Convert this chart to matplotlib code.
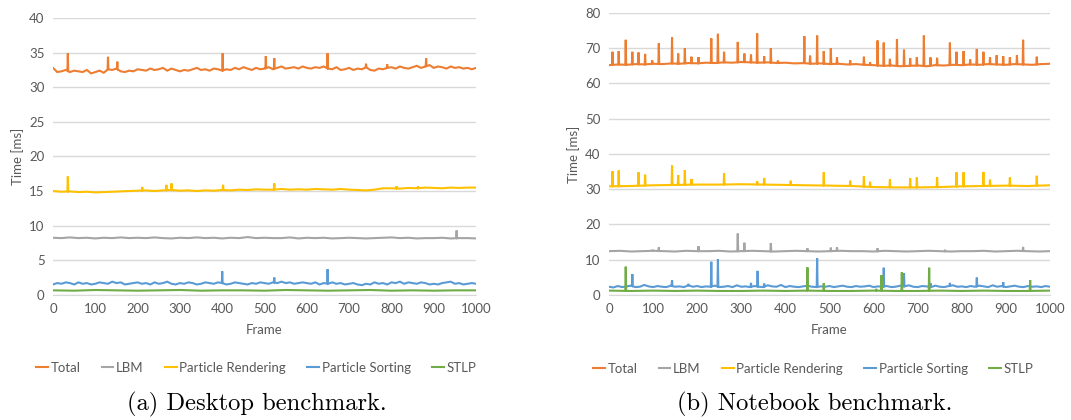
import matplotlib
matplotlib.use("Agg")
import matplotlib.pyplot as plt
import numpy as np

# series names and Excel-style colours
names = ["Total", "LBM", "Particle Rendering", "Particle Sorting", "STLP"]
colors = ["#ED7D31", "#A5A5A5", "#FFC000", "#5B9BD5", "#70AD47"]

# ---- desktop benchmark: baseline samples (evenly spread over frames 0..1000) ----
d_total = [32.8, 32.2, 32.3, 32.5, 32.2, 32.4, 32.3, 32.2, 32.5, 32.0,
           32.2, 32.4, 32.1, 32.6, 32.5, 32.7, 32.3, 32.2, 32.4, 32.3,
           32.6, 32.5, 32.4, 32.7, 32.5, 32.6, 32.8, 32.4, 32.7, 32.5,
           32.3, 32.5, 32.4, 32.6, 32.8, 32.5, 32.6, 32.4, 32.7, 32.6,
           32.4, 32.6, 32.5, 32.8, 32.6, 32.9, 32.7, 32.5, 32.8, 32.6,
           32.7, 32.9, 32.6, 32.8, 33.0, 32.7, 32.8, 32.9, 32.7, 33.0,
           32.8, 32.7, 32.9, 32.8, 33.0, 32.7, 32.6, 32.9, 32.5, 32.6,
           32.8, 32.5, 32.7, 32.6, 32.9, 32.5, 32.4, 32.7, 32.6, 32.8,
           32.9, 32.7, 33.0, 32.8, 32.7, 32.9, 33.1, 32.8, 33.0, 33.2,
           32.8, 33.0, 32.9, 32.7, 33.0, 32.8, 32.9, 32.7, 32.8, 32.6, 32.8]
d_lbm = [8.25, 8.2, 8.3, 8.2, 8.25, 8.15, 8.25, 8.2, 8.3, 8.2,
         8.25, 8.2, 8.3, 8.2, 8.15, 8.25, 8.2, 8.3, 8.2, 8.25,
         8.15, 8.25, 8.2, 8.35, 8.2, 8.25, 8.2, 8.2, 8.3, 8.15,
         8.25, 8.2, 8.25, 8.15, 8.2, 8.25, 8.2, 8.15, 8.2, 8.25,
         8.3, 8.2, 8.25, 8.15, 8.2, 8.2, 8.25, 8.15, 8.2, 8.2, 8.15]
d_render = [15.0, 14.9, 14.95, 14.85, 14.9, 14.8, 14.85, 14.9, 14.95, 15.0,
            15.05, 15.1, 15.0, 15.1, 15.15, 15.05, 15.1, 15.0, 15.1, 15.05,
            15.15, 15.1, 15.2, 15.15, 15.25, 15.2, 15.2, 15.3, 15.2, 15.25,
            15.2, 15.3, 15.25, 15.2, 15.3, 15.2, 15.15, 15.1, 15.2, 15.4,
            15.4, 15.35, 15.45, 15.4, 15.5, 15.45, 15.4, 15.5, 15.45, 15.5, 15.5]
d_sort = [1.5, 1.7, 1.6, 1.8, 1.7, 1.5, 1.8, 1.6, 1.7, 1.5,
          1.6, 1.8, 1.7, 1.6, 1.9, 1.7, 1.8, 1.5, 1.6, 1.7,
          1.8, 1.6, 1.7, 1.5, 1.8, 1.6, 1.7, 1.9, 1.6, 1.5,
          1.7, 1.6, 1.8, 1.7, 1.5, 1.6, 1.8, 1.7, 1.6, 1.8,
          1.7, 1.5, 1.6, 1.8, 1.7, 1.6, 1.5, 1.7, 1.6, 1.8,
          1.7, 1.6, 1.8, 1.7, 1.9, 1.7, 1.8, 1.6, 1.7, 1.8,
          1.7, 1.6, 1.8, 1.5, 1.7, 1.6, 1.8, 1.6, 1.7, 1.5,
          1.6, 1.7, 1.5, 1.4, 1.6, 1.5, 1.8, 1.6, 1.7, 1.5,
          1.8, 1.7, 1.9, 1.6, 1.8, 1.7, 1.6, 1.8, 1.7, 1.5,
          1.6, 1.5, 1.7, 1.8, 1.9, 1.6, 1.7, 1.5, 1.6, 1.7, 1.6]
d_stlp = [0.65, 0.6, 0.7, 0.65, 0.6, 0.65, 0.7, 0.6, 0.65, 0.65,
          0.6, 0.7, 0.65, 0.6, 0.65, 0.7, 0.6, 0.65, 0.6, 0.65, 0.65]

# desktop spikes: (frame, peak)
d_total_spk = [(35, 34.9), (130, 34.4), (152, 33.7), (401, 34.9), (503, 34.5),
               (523, 34.2), (649, 34.9), (740, 33.4), (790, 33.3), (882, 34.2)]
d_lbm_spk = [(954, 9.3)]
d_render_spk = [(35, 17.1), (211, 15.6), (268, 15.9), (280, 16.1), (402, 15.9),
                (523, 16.1), (812, 15.7), (863, 15.7)]
d_sort_spk = [(400, 3.4), (523, 2.5), (649, 3.7)]
d_stlp_spk = []

# ---- notebook benchmark ----
n_total = [65.2, 65.4, 65.3, 65.5, 65.4, 65.6, 65.5, 65.7, 65.6, 65.8,
           65.7, 65.9, 65.8, 66.0, 65.9, 66.1, 66.0, 65.9, 66.0, 65.8,
           65.9, 65.7, 65.8, 65.6, 65.7, 65.5, 65.6, 65.4, 65.5, 65.3,
           65.2, 65.0, 65.1, 64.9, 65.0, 65.1, 64.9, 65.2, 65.1, 65.3,
           65.2, 65.4, 65.3, 65.5, 65.4, 65.3, 65.5, 65.4, 65.3, 65.5, 65.6]
n_lbm = [12.4, 12.5, 12.3, 12.4, 12.5, 12.4, 12.3, 12.5, 12.4, 12.4,
         12.5, 12.3, 12.4, 12.5, 12.4, 12.3, 12.4, 12.5, 12.4, 12.3,
         12.4, 12.5, 12.4, 12.4, 12.3, 12.5, 12.4, 12.3, 12.4, 12.5,
         12.4, 12.3, 12.4, 12.4, 12.5, 12.3, 12.4, 12.5, 12.4, 12.3, 12.4]
n_render = [30.8, 30.9, 31.1, 31.2, 31.3, 31.3, 31.4, 31.3, 31.2, 31.1,
            31.0, 30.9, 30.6, 30.5, 30.5, 30.6, 30.8, 30.9, 31.0, 30.9, 31.1]
n_sort = [2.3, 2.1, 2.5, 2.2, 2.4, 2.6, 2.2, 2.3, 2.8, 2.4,
          2.2, 2.5, 2.3, 2.2, 2.6, 2.3, 2.4, 2.2, 2.7, 2.3,
          2.5, 2.2, 2.4, 2.3, 2.6, 2.2, 2.3, 2.5, 2.2, 2.7,
          2.3, 2.4, 2.2, 2.5, 2.3, 2.2, 2.7, 2.4, 2.3, 2.8,
          2.2, 2.5, 2.3, 2.2, 2.4, 2.6, 2.3, 2.2, 2.4, 2.3,
          2.5, 2.2, 2.4, 2.6, 2.3, 2.2, 2.5, 2.3, 2.4, 2.6,
          2.2, 2.4, 2.3, 2.5, 2.2, 2.3, 2.6, 2.4, 2.7, 2.3,
          2.2, 2.5, 2.4, 2.2, 2.6, 2.3, 2.2, 2.5, 2.7, 2.3,
          2.4, 2.2, 2.5, 2.3, 2.6, 2.4, 2.2, 2.7, 2.3, 2.5,
          2.2, 2.4, 2.6, 2.3, 2.2, 2.5, 2.3, 2.4, 2.2, 2.5, 2.3]
n_stlp = [1.2, 1.1, 1.2, 1.1, 1.2, 1.1, 1.1, 1.2, 1.1, 1.2,
          1.1, 1.1, 1.2, 1.1, 1.1, 1.2, 1.1, 1.2, 1.1, 1.1, 1.2]

n_total_spk = [(8, 69.0), (22, 69.2), (38, 72.4), (53, 69.0), (67, 68.8), (82, 68.4),
               (98, 66.6), (113, 71.4), (143, 73.1), (157, 68.5), (172, 70.0),
               (187, 67.6), (203, 67.5), (232, 72.8), (247, 74.1), (261, 69.0),
               (292, 71.8), (307, 68.5), (322, 68.2), (336, 74.2), (352, 67.7),
               (367, 70.0), (383, 66.5), (443, 73.4), (456, 67.9), (472, 73.6),
               (487, 69.2), (503, 70.0), (517, 67.4), (547, 66.6), (578, 67.6),
               (592, 66.0), (609, 72.2), (623, 71.6), (637, 67.0), (653, 72.6),
               (669, 69.6), (683, 67.2), (698, 67.5), (714, 73.6), (729, 67.4),
               (744, 67.3), (773, 71.6), (788, 69.0), (804, 69.2), (819, 66.8),
               (834, 69.8), (849, 69.0), (864, 67.5), (879, 68.0), (894, 67.7),
               (909, 67.5), (925, 68.0), (939, 72.4), (970, 67.6)]
n_lbm_spk = [(99, 12.8), (113, 13.5), (203, 13.8), (292, 17.4), (307, 14.8),
             (367, 14.7), (450, 13.2), (503, 13.4), (517, 13.5), (609, 13.2),
             (762, 12.8), (939, 13.6)]
n_render_spk = [(8, 35.1), (22, 35.3), (67, 34.8), (82, 34.1), (143, 36.7),
                (157, 34.0), (172, 35.4), (187, 32.9), (261, 34.5), (336, 32.3),
                (352, 33.2), (412, 32.4), (487, 34.8), (547, 32.4), (578, 33.6),
                (592, 32.1), (637, 32.8), (683, 33.1), (698, 33.3), (744, 33.4),
                (788, 34.8), (804, 34.8), (849, 34.9), (864, 32.7), (909, 33.3),
                (970, 33.8)]
n_sort_spk = [(53, 5.9), (143, 4.2), (180, 3.1), (232, 9.4), (247, 10.1),
              (322, 3.4), (337, 6.8), (352, 3.2), (472, 10.4), (623, 7.7),
              (669, 6.1), (729, 3.3), (773, 3.4), (834, 4.9), (894, 3.6)]
n_stlp_spk = [(38, 8.0), (450, 7.8), (487, 3.3), (606, 1.7), (618, 5.6),
              (664, 6.4), (726, 7.7), (955, 4.2)]

x_ticks = [0, 100, 200, 300, 400, 500, 600, 700, 800, 900, 1000]

GRID = "#D9D9D9"
TXT = "#595959"


def build(samples, spikes):
    # baseline samples spread over frames, spikes put in as thin peaks on the line
    bx = np.linspace(0, 1000, len(samples))
    if not spikes:
        return bx, np.array(samples, dtype=float)
    sf = np.array([s[0] for s in spikes], dtype=float)
    sv = np.array([s[1] for s in spikes], dtype=float)
    x = np.union1d(bx, np.concatenate([sf - 1, sf, sf + 1]))
    x = x[(x >= 0) & (x <= 1000)]
    y = np.interp(x, bx, samples)
    y[np.searchsorted(x, sf)] = sv
    return x, y


def draw(ax, series, y_max, y_step, leg_x):
    for (samples, spikes), c, n in zip(series, colors, names):
        x, y = build(samples, spikes)
        ax.plot(x, y, color=c, lw=1.5, label=n, solid_joinstyle="miter")
    ax.set_xlim(0, 1000)
    ax.set_ylim(0, y_max)
    ax.set_xticks(x_ticks)
    ax.set_yticks(np.arange(0, y_max + 1, y_step))
    ax.grid(axis="y", color=GRID, lw=1)
    ax.set_axisbelow(True)
    for s in ["top", "right", "left"]:
        ax.spines[s].set_visible(False)
    ax.spines["bottom"].set_color(GRID)
    ax.tick_params(length=0, labelsize=9.5, colors=TXT, pad=6)
    ax.set_xlabel("Frame", fontsize=9.5, color=TXT, labelpad=6)
    ax.set_ylabel("Time [ms]", fontsize=9.5, color=TXT, labelpad=4)
    ax.legend(loc="upper center", bbox_to_anchor=(leg_x, -0.2), ncol=5, frameon=False,
              fontsize=9.5, handlelength=0.9, handletextpad=0.2, columnspacing=1.6,
              labelcolor=TXT)


plt.rcParams["font.family"] = ["Lato", "DejaVu Sans"]

fig = plt.figure(figsize=(10.71, 4.2), dpi=100)
ax1 = fig.add_axes([0.0495, 0.298, 0.395, 0.659])
ax2 = fig.add_axes([0.5686, 0.298, 0.4118, 0.671])

draw(ax1, [(d_total, d_total_spk), (d_lbm, d_lbm_spk), (d_render, d_render_spk),
           (d_sort, d_sort_spk), (d_stlp, d_stlp_spk)], 40, 5, 0.48)
draw(ax2, [(n_total, n_total_spk), (n_lbm, n_lbm_spk), (n_render, n_render_spk),
           (n_sort, n_sort_spk), (n_stlp, n_stlp_spk)], 80, 10, 0.463)

fig.text(0.24, 0.036, "(a) Desktop benchmark.", ha="center", va="center",
         fontsize=17.7, family="cmr10")
fig.text(0.761, 0.036, "(b) Notebook benchmark.", ha="center", va="center",
         fontsize=17.7, family="cmr10")

fig.savefig("out.png", dpi=100)
